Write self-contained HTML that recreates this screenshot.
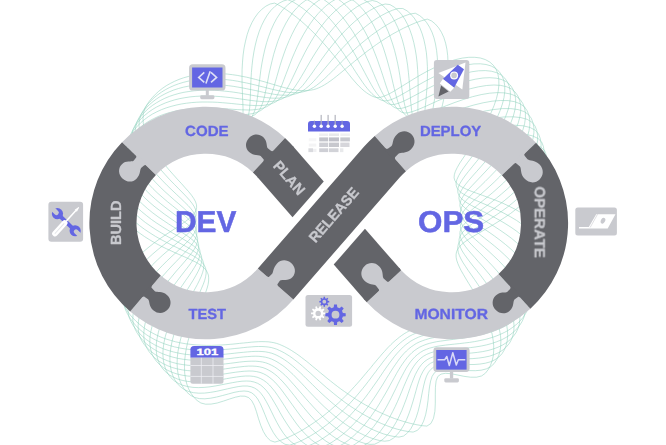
<!DOCTYPE html>
<html><head><meta charset="utf-8"><title>DevOps</title>
<style>
html,body{margin:0;padding:0;background:#fff;}
body{width:666px;height:445px;overflow:hidden;}
svg{display:block;}
text{font-family:"Liberation Sans",Arial,Helvetica,sans-serif;font-weight:700;text-rendering:geometricPrecision;}
</style></head><body>
<svg width="666" height="445" viewBox="0 0 666 445">
<rect width="666" height="445" fill="#fff"/>
<g id="bg" fill="none" stroke="#8fd2bd" stroke-width="0.55">
<path d="M114.4,189.1L115.4,184.6L116.9,180.3L118.9,176.1L121.5,172.1L124.5,168.3L127.9,164.7L131.8,161.3L136.0,158.1L140.6,155.3L145.5,152.6L150.6,150.3L155.9,148.2L161.4,146.4L166.9,144.8L172.5,143.4L178.1,142.2L183.7,141.3L189.2,140.4L194.5,139.8L199.7,139.2L204.6,138.6L209.4,138.2L213.8,137.7L218.0,137.1L221.9,136.5L225.5,135.8L228.8,134.9L231.7,133.8L234.4,132.5L236.7,131.0L238.8,129.2L240.4,126.9L241.6,124.1L242.4,120.8L242.8,116.9L243.0,112.5L243.0,107.5L242.8,102.1L242.5,96.1L242.3,89.8L242.1,83.2L242.0,76.3L242.1,69.3L242.5,62.1L243.1,55.0L244.1,47.9L245.5,41.1L247.2,34.5L249.3,28.4L251.9,22.7L254.8,17.6L258.1,13.1L261.8,9.3L265.8,6.2L270.1,4.0L274.7,3.1L280.2,5.9L285.7,9.3L291.0,13.0L296.1,16.9L301.1,21.0L305.9,25.3L310.5,29.6L314.9,34.0L319.1,38.4L323.1,42.8L326.9,47.1L330.5,51.4L334.0,55.6L337.3,59.7L340.4,63.7L343.4,67.6L346.3,71.2L349.1,74.7L351.7,78.0L354.3,81.0L356.8,83.9L359.3,86.5L361.7,88.8L364.1,90.9L366.6,92.8L369.0,94.4L371.6,95.8L374.1,96.9L376.9,97.6L380.0,97.4L383.5,96.4L387.5,94.7L391.9,92.4L396.8,89.5L402.1,86.2L407.9,82.6L414.0,78.8L420.6,74.9L427.3,71.2L434.3,67.7L441.4,64.5L448.5,61.8L455.5,59.6L462.3,58.1L468.8,57.3L474.9,57.3L480.4,58.0L485.4,59.6L489.7,62.0L493.3,65.2L496.0,69.2L497.9,73.9L498.8,79.3L498.9,85.2L498.1,91.7L496.5,98.4L494.1,105.5L491.1,112.7L487.6,119.8L483.7,126.9L479.5,133.8L475.2,140.5L471.0,146.7L466.9,152.6L463.2,158.0L459.9,162.9L457.3,167.4L455.4,171.3L454.3,174.8L454.1,177.9L454.9,180.6L456.5,183.0L458.9,185.2L462.2,187.2L466.3,189.2L471.1,191.2L476.5,193.2L482.4,195.3L488.8,197.7L495.4,200.2L502.1,202.9L508.7,206.0L515.2,209.3L521.4,212.9L527.0,216.8L532.1,220.9L536.4,225.2L539.9,229.6L542.5,234.2L544.1,238.8L544.7,243.4L544.3,247.9L543.5,252.4L542.4,256.8L540.9,261.2L539.1,265.4L537.1,269.6L534.7,273.6L532.1,277.5L529.2,281.2L526.1,284.8L522.7,288.3L519.1,291.5L515.4,294.6L511.4,297.5L507.3,300.3L503.1,302.8L498.7,305.2L494.3,307.4L489.8,309.4L485.3,311.2L480.7,312.9L476.1,314.4L471.6,315.8L467.0,317.0L462.6,318.1L458.2,319.1L453.8,320.0L449.6,320.9L445.5,321.6L441.5,322.4L437.6,323.1L433.8,323.8L430.2,324.5L426.8,325.2L423.5,326.0L420.3,326.8L417.2,327.7L414.4,328.7L411.6,329.8L409.0,331.0L406.5,332.4L404.1,333.8L401.8,335.4L399.5,337.1L397.3,338.9L395.1,340.7L392.9,342.7L390.8,344.7L388.6,346.9L386.5,349.1L384.4,351.5L382.2,353.9L380.0,356.5L377.8,359.1L375.5,361.8L373.1,364.7L370.8,367.6L368.3,370.5L365.7,373.6L363.1,376.7L360.4,379.9L357.6,383.1L354.6,386.4L351.6,389.7L348.4,393.1L345.1,396.4L341.7,399.8L338.2,403.2L334.5,406.5L330.7,409.8L326.8,413.1L322.7,416.4L318.5,419.5L314.1,422.6L309.6,425.6L305.0,428.5L300.2,431.3L295.4,433.9L290.4,436.3L285.3,438.6L280.1,440.5L274.9,442.1L270.4,440.6L266.6,436.9L263.4,431.6L260.7,425.2L258.4,418.3L256.4,411.5L254.3,405.5L251.8,400.8L248.8,397.7L245.0,396.2L240.5,396.1L235.4,397.2L229.6,399.0L223.4,401.1L217.2,403.0L211.1,404.1L205.6,404.2L200.9,403.0L197.0,400.4L193.7,397.1L190.9,393.2L188.6,388.8L186.8,384.0L185.5,378.8L184.7,373.2L184.5,367.3L184.6,361.2L185.3,354.9L186.3,348.6L187.7,342.2L189.4,335.9L191.3,329.6L193.4,323.5L195.6,317.6L197.8,312.0L200.0,306.6L202.1,301.5L204.0,296.8L205.7,292.3L207.1,288.2L208.1,284.5L208.6,281.1L208.7,277.9L208.4,275.1L207.4,272.5L206.0,270.1L204.0,267.9L201.5,265.8L198.6,263.8L195.1,261.8L191.1,259.9L186.8,257.9L182.1,255.8L177.0,253.6L171.8,251.2L166.3,248.7L160.8,246.0L155.3,243.1L149.8,239.9L144.4,236.5L139.3,232.9L134.5,229.1L130.0,225.1L126.0,220.9L122.5,216.5L119.5,212.0L117.2,207.5L115.4,202.8L114.4,198.2L114.1,193.6Z"/>
<path d="M115.9,180.9L117.0,176.5L118.6,172.2L120.8,168.1L123.4,164.2L126.4,160.4L129.9,156.9L133.7,153.6L137.9,150.6L142.4,147.8L147.2,145.3L152.3,143.0L157.5,141.0L162.9,139.3L168.3,137.8L173.9,136.5L179.4,135.4L184.9,134.6L190.3,133.9L195.7,133.3L200.9,132.8L205.9,132.5L210.7,132.1L215.3,131.8L219.6,131.5L223.6,131.0L227.4,130.5L230.9,129.9L234.1,129.1L237.1,128.1L239.7,126.9L242.1,125.5L244.2,123.7L246.0,121.6L247.3,118.9L248.4,115.6L249.1,111.9L249.7,107.6L250.0,102.8L250.3,97.5L250.5,91.8L250.7,85.7L251.0,79.3L251.4,72.6L252.0,65.8L252.8,58.8L253.9,51.9L255.3,45.0L257.0,38.3L259.1,31.8L261.5,25.7L264.3,20.1L267.4,14.9L270.9,10.4L274.7,6.6L278.8,3.4L283.1,1.1L287.7,-0.3L292.9,1.8L298.0,5.0L303.1,8.6L308.1,12.6L312.8,16.8L317.4,21.3L321.8,25.9L326.0,30.6L330.0,35.3L333.8,40.1L337.4,44.9L340.8,49.6L344.1,54.2L347.1,58.8L350.0,63.2L352.8,67.4L355.4,71.5L357.9,75.3L360.4,79.0L362.7,82.4L365.0,85.6L367.3,88.5L369.5,91.1L371.8,93.5L374.1,95.6L376.4,97.4L378.8,98.9L381.4,100.2L384.1,100.9L387.3,100.7L391.0,99.7L395.2,98.0L399.9,95.6L405.2,92.6L410.9,89.3L417.2,85.7L423.8,82.0L430.8,78.3L438.0,74.7L445.3,71.5L452.7,68.7L460.0,66.4L467.1,64.8L473.9,63.9L480.3,63.8L486.1,64.5L491.2,66.0L495.6,68.4L499.2,71.6L501.9,75.5L503.8,80.2L504.7,85.4L504.8,91.2L504.0,97.5L502.4,104.0L500.0,110.9L497.0,117.8L493.4,124.8L489.4,131.7L485.1,138.4L480.7,144.9L476.2,151.0L471.9,156.8L467.8,162.2L464.2,167.1L461.1,171.6L458.7,175.7L457.0,179.3L456.1,182.5L456.2,185.4L457.1,188.1L458.9,190.5L461.5,192.8L464.9,195.0L469.1,197.2L473.8,199.5L479.2,201.8L485.0,204.3L491.1,207.0L497.5,210.0L503.9,213.2L510.2,216.6L516.4,220.3L522.2,224.3L527.4,228.5L532.1,232.9L536.1,237.4L539.2,242.1L541.5,246.8L542.8,251.5L543.1,256.1L542.4,260.6L541.4,265.0L540.0,269.4L538.2,273.6L536.1,277.7L533.8,281.7L531.1,285.6L528.1,289.2L524.9,292.8L521.4,296.1L517.7,299.3L513.8,302.2L509.7,305.0L505.5,307.6L501.1,310.0L496.6,312.2L492.0,314.2L487.4,316.0L482.7,317.7L478.0,319.1L473.4,320.5L468.7,321.7L464.1,322.7L459.6,323.7L455.2,324.6L450.8,325.4L446.6,326.1L442.5,326.8L438.6,327.5L434.7,328.2L431.1,328.9L427.6,329.7L424.2,330.5L421.0,331.4L418.0,332.4L415.1,333.5L412.4,334.7L409.8,336.1L407.3,337.6L404.9,339.3L402.6,341.0L400.3,342.9L398.1,344.9L395.9,347.0L393.7,349.3L391.5,351.6L389.4,354.1L387.2,356.7L385.0,359.4L382.8,362.2L380.6,365.2L378.2,368.2L375.9,371.4L373.4,374.6L370.9,378.0L368.3,381.4L365.6,384.9L362.8,388.4L359.8,392.0L356.8,395.6L353.6,399.3L350.3,402.9L346.8,406.6L343.2,410.2L339.5,413.8L335.6,417.4L331.6,420.9L327.4,424.3L323.1,427.5L318.7,430.7L314.1,433.7L309.4,436.5L304.6,439.1L299.7,441.5L294.7,443.5L289.7,445.1L285.0,444.3L280.8,441.6L276.9,437.7L273.4,432.7L270.3,427.0L267.5,421.0L265.0,414.8L262.6,408.9L260.2,403.5L257.7,399.0L254.9,395.4L251.8,392.9L248.1,391.4L244.0,391.0L239.3,391.4L234.1,392.4L228.6,393.9L222.7,395.5L216.7,397.0L210.7,398.2L204.8,398.8L199.4,398.6L194.5,397.4L190.3,395.2L186.9,392.2L183.9,388.6L181.4,384.4L179.5,379.8L178.2,374.7L177.4,369.3L177.1,363.5L177.3,357.5L178.0,351.4L179.2,345.1L180.7,338.7L182.6,332.4L184.7,326.2L187.1,320.0L189.6,314.1L192.2,308.4L194.7,303.0L197.2,297.8L199.5,293.0L201.5,288.4L203.3,284.2L204.7,280.4L205.6,276.8L206.1,273.6L206.1,270.6L205.5,267.9L204.4,265.4L202.7,263.0L200.4,260.8L197.7,258.7L194.4,256.5L190.6,254.4L186.5,252.3L181.9,250.0L177.0,247.6L171.8,245.1L166.5,242.4L161.0,239.5L155.5,236.4L150.1,233.0L144.8,229.5L139.7,225.7L134.9,221.7L130.5,217.5L126.6,213.2L123.1,208.7L120.3,204.1L118.0,199.4L116.4,194.7L115.5,190.1L115.3,185.4Z"/>
<path d="M117.6,172.8L118.9,168.5L120.7,164.3L122.9,160.2L125.6,156.3L128.6,152.7L132.1,149.2L136.0,146.0L140.1,143.1L144.6,140.4L149.4,138.0L154.3,135.8L159.5,133.9L164.8,132.2L170.2,130.8L175.6,129.7L181.1,128.7L186.5,127.9L191.9,127.3L197.2,126.9L202.4,126.6L207.5,126.3L212.3,126.1L217.0,126.0L221.4,125.8L225.6,125.6L229.5,125.3L233.2,124.9L236.6,124.3L239.8,123.6L242.7,122.7L245.4,121.6L247.8,120.3L250.0,118.6L251.9,116.5L253.4,113.9L254.7,110.8L255.7,107.2L256.6,103.1L257.3,98.5L258.0,93.4L258.6,87.9L259.3,82.1L260.1,75.9L260.9,69.5L262.0,62.9L263.3,56.2L264.8,49.5L266.6,42.8L268.7,36.3L271.1,29.9L273.8,23.9L276.8,18.3L280.2,13.2L283.8,8.7L287.8,4.8L291.9,1.6L296.4,-0.8L300.9,-2.2L305.8,-1.1L310.8,1.7L315.7,5.3L320.4,9.2L325.0,13.6L329.3,18.2L333.5,23.0L337.5,28.0L341.2,33.0L344.8,38.1L348.2,43.3L351.3,48.4L354.3,53.4L357.1,58.4L359.7,63.2L362.2,67.8L364.6,72.3L366.8,76.5L369.0,80.5L371.1,84.3L373.1,87.8L375.2,91.0L377.2,93.8L379.3,96.4L381.4,98.7L383.6,100.7L385.9,102.4L388.3,103.8L391.1,104.5L394.4,104.4L398.3,103.3L402.8,101.5L407.9,99.1L413.6,96.1L419.8,92.8L426.5,89.2L433.6,85.6L441.1,82.1L448.7,78.8L456.4,75.9L464.1,73.6L471.5,71.8L478.6,70.8L485.3,70.6L491.3,71.2L496.7,72.7L501.2,75.0L504.8,78.2L507.5,82.1L509.4,86.7L510.3,91.9L510.4,97.5L509.6,103.6L508.0,110.0L505.6,116.6L502.6,123.3L499.0,130.0L494.9,136.7L490.5,143.3L486.0,149.6L481.3,155.6L476.7,161.3L472.4,166.6L468.4,171.5L464.9,176.0L462.0,180.1L459.7,183.9L458.3,187.2L457.7,190.3L458.0,193.1L459.1,195.7L461.0,198.2L463.8,200.6L467.2,203.0L471.3,205.4L476.1,207.9L481.3,210.6L487.0,213.5L492.9,216.6L499.0,219.9L505.1,223.5L511.1,227.3L516.9,231.4L522.2,235.7L527.1,240.2L531.4,244.9L535.0,249.7L537.8,254.5L539.7,259.3L540.7,264.1L540.7,268.7L539.9,273.2L538.5,277.5L536.8,281.7L534.8,285.8L532.4,289.8L529.7,293.6L526.6,297.2L523.3,300.7L519.8,303.9L515.9,307.0L511.9,309.8L507.7,312.5L503.3,314.9L498.8,317.1L494.1,319.1L489.4,320.9L484.7,322.6L479.9,324.0L475.1,325.3L470.3,326.5L465.6,327.5L460.9,328.4L456.4,329.2L451.9,329.9L447.6,330.6L443.4,331.3L439.4,332.0L435.5,332.7L431.8,333.4L428.3,334.2L424.9,335.0L421.7,336.0L418.7,337.1L415.8,338.4L413.1,339.8L410.5,341.3L408.0,343.1L405.6,344.9L403.3,346.9L401.1,349.1L398.9,351.4L396.7,353.8L394.5,356.4L392.4,359.2L390.2,362.1L388.0,365.1L385.8,368.2L383.5,371.5L381.2,375.0L378.8,378.5L376.3,382.1L373.7,385.8L371.0,389.6L368.2,393.5L365.3,397.4L362.2,401.3L359.0,405.3L355.7,409.2L352.2,413.1L348.6,417.0L344.8,420.8L340.9,424.5L336.8,428.1L332.5,431.6L328.1,434.9L323.6,437.9L319.0,440.8L314.3,443.3L309.4,445.4L304.6,447.1L299.8,446.9L295.3,444.9L291.1,441.8L287.1,437.9L283.4,433.2L280.0,428.0L276.9,422.5L274.0,416.9L271.3,411.3L268.7,406.0L266.1,401.2L263.5,396.8L260.8,393.2L257.9,390.2L254.7,388.1L251.1,386.7L247.2,386.0L242.9,386.0L238.2,386.6L233.1,387.6L227.7,388.8L222.0,390.1L216.2,391.4L210.3,392.4L204.5,393.1L198.8,393.2L193.5,392.7L188.6,391.5L184.2,389.5L180.4,386.8L177.2,383.4L174.6,379.5L172.6,375.1L171.1,370.2L170.2,364.9L169.9,359.3L170.1,353.5L170.9,347.4L172.1,341.2L173.8,334.9L175.9,328.6L178.2,322.4L180.8,316.3L183.6,310.3L186.5,304.6L189.4,299.1L192.2,293.9L194.9,289.0L197.4,284.4L199.5,280.1L201.3,276.2L202.6,272.5L203.5,269.2L203.8,266.1L203.6,263.3L202.8,260.6L201.4,258.2L199.5,255.8L197.0,253.5L193.9,251.3L190.4,249.0L186.4,246.7L181.9,244.3L177.2,241.7L172.1,239.0L166.8,236.1L161.5,233.0L156.0,229.7L150.7,226.2L145.4,222.5L140.4,218.5L135.7,214.4L131.4,210.0L127.5,205.5L124.1,200.9L121.3,196.2L119.2,191.4L117.7,186.7L117.0,182.0L116.9,177.3Z"/>
<path d="M119.7,164.8L121.1,160.5L123.0,156.4L125.3,152.4L128.1,148.6L131.2,145.0L134.7,141.7L138.6,138.5L142.7,135.7L147.2,133.1L151.9,130.7L156.8,128.7L161.8,126.8L167.1,125.3L172.4,124.0L177.8,122.9L183.2,122.0L188.6,121.4L193.9,120.9L199.2,120.5L204.4,120.3L209.4,120.2L214.3,120.1L219.0,120.1L223.5,120.1L227.8,120.1L231.9,120.0L235.7,119.8L239.3,119.5L242.6,119.1L245.8,118.5L248.6,117.7L251.3,116.6L253.8,115.4L256.1,113.8L258.1,111.8L259.8,109.4L261.3,106.4L262.6,103.0L263.8,99.0L264.9,94.6L265.9,89.8L267.0,84.6L268.1,79.0L269.2,73.1L270.6,67.0L272.1,60.7L273.7,54.3L275.7,47.8L277.8,41.3L280.3,35.0L283.0,28.9L286.0,23.0L289.3,17.5L292.9,12.4L296.8,7.9L300.9,3.9L305.2,0.7L309.7,-1.8L314.3,-3.4L319.1,-2.9L323.9,-0.4L328.5,3.0L333.1,6.9L337.4,11.3L341.6,16.0L345.5,21.0L349.2,26.2L352.8,31.5L356.0,36.9L359.1,42.4L362.0,47.9L364.7,53.3L367.1,58.6L369.5,63.8L371.6,68.8L373.7,73.7L375.6,78.3L377.5,82.6L379.3,86.7L381.1,90.4L382.9,93.9L384.7,97.0L386.6,99.9L388.5,102.3L390.6,104.5L392.7,106.3L395.1,107.8L397.9,108.6L401.3,108.4L405.5,107.3L410.3,105.5L415.8,103.0L421.9,100.0L428.7,96.7L435.9,93.2L443.6,89.7L451.5,86.4L459.5,83.5L467.5,81.0L475.4,79.2L482.9,78.0L489.9,77.7L496.2,78.2L501.8,79.6L506.5,81.8L510.2,85.0L512.9,89.0L514.7,93.5L515.6,98.6L515.7,104.1L514.9,110.0L513.3,116.2L510.9,122.6L507.9,129.1L504.3,135.7L500.2,142.1L495.7,148.5L491.0,154.6L486.2,160.5L481.4,166.1L476.8,171.3L472.5,176.1L468.6,180.6L465.3,184.7L462.5,188.5L460.5,192.0L459.3,195.1L458.9,198.0L459.4,200.8L460.7,203.4L462.8,205.9L465.6,208.5L469.0,211.1L473.1,213.8L477.8,216.6L482.9,219.6L488.4,222.8L494.1,226.3L499.8,230.0L505.6,234.0L511.3,238.2L516.6,242.6L521.6,247.2L526.1,252.0L530.0,256.8L533.2,261.8L535.6,266.8L537.1,271.7L537.8,276.5L537.6,281.1L536.5,285.5L534.9,289.8L532.9,293.9L530.6,297.8L527.9,301.6L524.8,305.2L521.5,308.6L517.8,311.7L513.9,314.7L509.7,317.4L505.4,319.9L500.8,322.1L496.2,324.2L491.4,326.0L486.5,327.6L481.6,329.0L476.7,330.3L471.8,331.4L467.0,332.3L462.2,333.2L457.5,333.9L452.9,334.6L448.5,335.2L444.2,335.9L440.1,336.5L436.2,337.2L432.4,337.9L428.8,338.7L425.5,339.7L422.3,340.8L419.3,342.0L416.4,343.4L413.8,345.1L411.2,346.9L408.8,348.8L406.4,351.0L404.1,353.3L401.9,355.8L399.7,358.5L397.6,361.4L395.5,364.4L393.3,367.6L391.1,371.0L388.9,374.5L386.6,378.2L384.3,382.0L381.9,386.0L379.3,390.0L376.7,394.1L373.9,398.3L371.0,402.5L368.0,406.8L364.8,411.0L361.5,415.2L357.9,419.4L354.3,423.4L350.4,427.4L346.4,431.2L342.3,434.8L338.0,438.1L333.5,441.2L329.0,444.0L324.3,446.3L319.5,448.1L314.8,448.4L310.2,446.9L305.7,444.5L301.4,441.3L297.3,437.4L293.4,433.0L289.8,428.2L286.4,423.1L283.2,418.0L280.2,412.8L277.4,407.7L274.6,402.9L271.9,398.4L269.3,394.3L266.5,390.7L263.7,387.7L260.8,385.2L257.6,383.3L254.1,382.0L250.4,381.2L246.4,381.0L242.0,381.2L237.3,381.8L232.3,382.7L227.0,383.7L221.4,384.8L215.8,385.9L210.0,386.8L204.2,387.4L198.5,387.6L193.0,387.4L187.8,386.6L182.9,385.3L178.4,383.4L174.4,380.9L171.0,377.8L168.2,374.1L165.9,369.9L164.3,365.2L163.3,360.1L162.9,354.7L163.1,349.0L163.9,343.0L165.2,336.9L167.0,330.7L169.2,324.5L171.7,318.3L174.6,312.2L177.6,306.3L180.8,300.5L184.1,295.0L187.3,289.7L190.3,284.8L193.2,280.1L195.7,275.8L197.9,271.8L199.7,268.1L200.9,264.7L201.7,261.5L201.8,258.6L201.4,255.8L200.3,253.3L198.7,250.8L196.4,248.4L193.6,246.0L190.3,243.6L186.5,241.1L182.2,238.5L177.6,235.8L172.6,233.0L167.5,229.9L162.2,226.6L156.8,223.2L151.5,219.5L146.4,215.5L141.4,211.4L136.7,207.1L132.5,202.6L128.7,197.9L125.4,193.2L122.7,188.4L120.7,183.5L119.4,178.7L118.7,174.0L118.8,169.3Z"/>
<path d="M122.1,156.9L123.7,152.7L125.7,148.6L128.1,144.7L130.9,140.9L134.1,137.4L137.6,134.2L141.5,131.1L145.6,128.4L150.0,125.9L154.7,123.6L159.5,121.6L164.6,119.9L169.7,118.4L175.0,117.2L180.3,116.2L185.6,115.4L191.0,114.9L196.3,114.5L201.5,114.2L206.7,114.1L211.7,114.1L216.6,114.2L221.3,114.4L225.9,114.5L230.3,114.7L234.4,114.8L238.4,114.8L242.1,114.7L245.6,114.5L248.9,114.2L252.0,113.7L254.9,113.0L257.6,112.0L260.1,110.9L262.4,109.4L264.5,107.5L266.4,105.2L268.2,102.4L269.7,99.1L271.2,95.4L272.6,91.2L274.0,86.7L275.4,81.7L276.9,76.5L278.5,70.9L280.2,65.1L282.1,59.1L284.2,53.0L286.5,46.8L289.1,40.6L291.9,34.5L294.9,28.6L298.2,22.9L301.8,17.5L305.6,12.5L309.7,8.0L313.9,4.0L318.4,0.7L323.0,-1.9L327.7,-3.5L332.4,-3.7L337.1,-1.4L341.6,1.7L346.0,5.6L350.1,9.9L354.1,14.7L357.8,19.8L361.2,25.2L364.5,30.8L367.5,36.5L370.2,42.3L372.8,48.1L375.1,53.8L377.3,59.5L379.2,65.0L381.1,70.4L382.8,75.6L384.4,80.5L385.9,85.2L387.4,89.5L388.9,93.6L390.4,97.3L392.0,100.7L393.6,103.7L395.4,106.4L397.2,108.7L399.3,110.6L401.6,112.2L404.4,113.0L408.0,112.8L412.4,111.6L417.7,109.7L423.6,107.2L430.3,104.2L437.6,100.9L445.4,97.6L453.6,94.3L462.0,91.3L470.4,88.7L478.6,86.8L486.5,85.5L493.9,85.0L500.7,85.4L506.5,86.7L511.4,88.9L515.2,92.1L517.9,96.0L519.7,100.5L520.7,105.5L520.7,110.9L519.9,116.7L518.3,122.7L516.0,128.9L512.9,135.3L509.3,141.6L505.1,147.9L500.6,154.0L495.8,160.0L490.9,165.7L485.9,171.1L481.1,176.2L476.5,181.0L472.3,185.4L468.5,189.5L465.3,193.3L462.8,196.8L461.0,200.0L460.1,203.0L459.9,205.8L460.6,208.5L462.0,211.2L464.1,213.8L466.9,216.5L470.4,219.4L474.5,222.3L479.0,225.4L483.9,228.8L489.2,232.3L494.6,236.1L500.1,240.2L505.5,244.5L510.8,249.0L515.7,253.7L520.3,258.6L524.4,263.6L527.8,268.7L530.6,273.8L532.7,278.9L533.9,283.9L534.3,288.7L533.8,293.3L532.5,297.7L530.6,301.8L528.4,305.8L525.7,309.6L522.6,313.1L519.2,316.4L515.5,319.5L511.5,322.3L507.3,324.9L502.8,327.3L498.1,329.3L493.3,331.2L488.3,332.8L483.3,334.2L478.3,335.4L473.2,336.4L468.2,337.3L463.3,338.0L458.5,338.7L453.8,339.3L449.2,339.9L444.9,340.5L440.7,341.1L436.7,341.7L432.9,342.5L429.3,343.4L426.0,344.4L422.8,345.7L419.8,347.1L417.0,348.8L414.4,350.6L411.9,352.7L409.6,355.0L407.3,357.5L405.1,360.3L402.9,363.3L400.8,366.4L398.7,369.8L396.6,373.4L394.5,377.2L392.3,381.2L390.0,385.3L387.7,389.6L385.2,394.0L382.6,398.4L379.9,402.9L377.1,407.5L374.0,412.0L370.9,416.5L367.5,421.0L364.0,425.3L360.2,429.5L356.3,433.4L352.3,437.1L348.1,440.5L343.7,443.6L339.2,446.1L334.5,448.1L329.8,448.9L325.1,447.9L320.5,445.9L315.9,443.2L311.6,440.0L307.4,436.2L303.4,432.0L299.5,427.6L295.9,422.9L292.5,418.1L289.2,413.3L286.2,408.6L283.2,403.9L280.4,399.5L277.6,395.4L274.9,391.5L272.1,388.1L269.4,385.0L266.5,382.4L263.5,380.2L260.4,378.5L257.1,377.2L253.5,376.4L249.7,376.0L245.6,376.0L241.2,376.4L236.5,377.0L231.5,377.8L226.4,378.7L221.0,379.7L215.4,380.5L209.8,381.3L204.1,381.8L198.4,382.0L192.9,381.9L187.5,381.4L182.3,380.4L177.5,379.0L173.0,377.0L168.9,374.6L165.3,371.6L162.2,368.1L159.7,364.2L157.9,359.7L156.7,354.9L156.2,349.6L156.3,344.0L157.1,338.2L158.4,332.2L160.2,326.1L162.6,320.0L165.3,313.9L168.4,307.8L171.7,301.9L175.2,296.2L178.7,290.7L182.3,285.4L185.7,280.4L189.0,275.7L191.9,271.4L194.5,267.3L196.7,263.5L198.4,260.1L199.5,256.8L200.1,253.8L200.0,251.0L199.3,248.3L198.0,245.8L196.0,243.2L193.5,240.7L190.4,238.2L186.8,235.6L182.7,232.9L178.2,230.0L173.4,227.0L168.4,223.8L163.2,220.3L157.9,216.7L152.7,212.8L147.6,208.7L142.7,204.3L138.1,199.8L133.9,195.2L130.2,190.4L127.0,185.5L124.4,180.6L122.5,175.7L121.3,170.8L120.8,166.0L121.0,161.4Z"/>
<path d="M124.7,149.1L126.5,144.9L128.6,140.9L131.1,137.0L134.0,133.4L137.3,130.0L140.8,126.8L144.7,123.9L148.9,121.2L153.3,118.8L157.9,116.6L162.7,114.7L167.7,113.1L172.8,111.7L177.9,110.6L183.2,109.7L188.5,109.0L193.8,108.5L199.0,108.2L204.2,108.1L209.4,108.1L214.4,108.2L219.3,108.4L224.0,108.7L228.6,109.0L233.0,109.3L237.2,109.6L241.3,109.8L245.1,109.9L248.8,110.0L252.2,109.9L255.4,109.6L258.5,109.2L261.4,108.6L264.1,107.8L266.7,106.7L269.1,105.3L271.3,103.6L273.4,101.4L275.3,98.8L277.1,95.7L278.8,92.2L280.5,88.3L282.3,84.0L284.0,79.4L285.9,74.4L287.9,69.2L290.0,63.7L292.2,58.1L294.7,52.3L297.3,46.5L300.2,40.6L303.3,34.8L306.7,29.1L310.3,23.6L314.1,18.4L318.2,13.5L322.4,9.1L326.9,5.1L331.5,1.7L336.2,-1.0L341.0,-2.8L345.8,-3.3L350.4,-1.4L354.8,1.5L359.0,5.3L363.0,9.6L366.7,14.4L370.2,19.6L373.4,25.1L376.3,30.9L379.0,36.8L381.5,42.9L383.7,48.9L385.6,55.0L387.4,61.0L389.0,66.9L390.5,72.6L391.8,78.1L393.0,83.3L394.2,88.3L395.4,92.9L396.5,97.2L397.7,101.2L399.0,104.7L400.4,107.9L401.9,110.8L403.7,113.2L405.6,115.3L407.8,117.0L410.7,117.7L414.5,117.5L419.3,116.3L424.9,114.3L431.5,111.7L438.7,108.8L446.6,105.6L455.0,102.4L463.7,99.4L472.5,96.7L481.2,94.6L489.6,93.2L497.5,92.6L504.6,92.9L510.9,94.1L516.0,96.2L520.0,99.3L522.7,103.3L524.5,107.8L525.4,112.7L525.4,118.0L524.6,123.7L523.0,129.5L520.7,135.6L517.6,141.7L514.0,147.8L509.8,153.9L505.3,159.8L500.4,165.6L495.3,171.1L490.2,176.4L485.2,181.4L480.4,186.1L475.8,190.4L471.7,194.5L468.1,198.2L465.1,201.7L462.8,204.9L461.3,207.9L460.5,210.8L460.5,213.6L461.3,216.3L462.8,219.0L465.0,221.8L467.9,224.7L471.3,227.8L475.3,231.0L479.7,234.4L484.4,238.0L489.4,241.9L494.5,246.0L499.7,250.4L504.7,255.0L509.6,259.8L514.1,264.8L518.3,269.9L521.9,275.2L525.0,280.4L527.4,285.7L529.0,290.8L529.9,295.9L530.0,300.7L529.3,305.3L527.7,309.6L525.6,313.6L523.1,317.4L520.1,320.9L516.7,324.2L512.9,327.2L508.8,330.0L504.5,332.4L499.8,334.6L495.0,336.5L490.0,338.1L484.9,339.5L479.8,340.6L474.6,341.6L469.5,342.4L464.4,343.0L459.4,343.6L454.6,344.1L449.9,344.6L445.4,345.1L441.1,345.7L437.1,346.3L433.3,347.2L429.7,348.1L426.4,349.3L423.2,350.7L420.4,352.4L417.7,354.4L415.1,356.6L412.8,359.1L410.5,361.8L408.3,364.9L406.2,368.2L404.2,371.8L402.2,375.6L400.1,379.6L398.0,383.9L395.9,388.4L393.6,393.0L391.3,397.7L388.8,402.5L386.2,407.4L383.3,412.3L380.4,417.1L377.2,421.8L373.8,426.4L370.2,430.7L366.5,434.8L362.5,438.6L358.3,442.0L354.0,444.9L349.5,447.2L344.9,448.4L340.1,447.8L335.3,446.2L330.6,444.0L326.0,441.2L321.6,437.9L317.3,434.3L313.1,430.4L309.1,426.2L305.4,421.9L301.7,417.5L298.3,413.0L295.0,408.5L291.9,404.2L288.8,399.9L285.9,395.9L283.1,392.0L280.4,388.4L277.6,385.1L274.9,382.1L272.1,379.5L269.2,377.2L266.3,375.2L263.2,373.6L260.0,372.4L256.6,371.6L252.9,371.1L249.0,371.0L244.9,371.2L240.5,371.6L235.8,372.2L231.0,372.9L225.9,373.7L220.6,374.5L215.2,375.3L209.7,375.9L204.1,376.3L198.5,376.5L192.9,376.4L187.5,376.0L182.2,375.2L177.1,374.0L172.3,372.4L167.8,370.4L163.7,367.9L160.0,365.0L156.8,361.7L154.0,358.0L151.9,353.8L150.6,349.1L149.9,344.1L149.9,338.7L150.5,333.0L151.8,327.2L153.7,321.2L156.1,315.2L159.0,309.1L162.2,303.1L165.7,297.3L169.5,291.6L173.4,286.1L177.3,280.8L181.1,275.8L184.7,271.2L188.1,266.8L191.2,262.7L193.8,258.9L195.9,255.4L197.5,252.1L198.4,249.0L198.7,246.1L198.4,243.4L197.4,240.7L195.7,238.1L193.5,235.5L190.7,232.9L187.3,230.1L183.4,227.3L179.1,224.3L174.4,221.1L169.5,217.7L164.4,214.1L159.3,210.2L154.1,206.2L149.1,201.9L144.3,197.4L139.8,192.7L135.6,187.9L132.0,182.9L128.9,177.9L126.4,172.9L124.6,167.9L123.5,162.9L123.1,158.1L123.6,153.5Z"/>
<path d="M127.7,141.4L129.6,137.3L131.9,133.3L134.5,129.5L137.5,126.0L140.8,122.7L144.4,119.6L148.3,116.7L152.4,114.1L156.8,111.8L161.4,109.7L166.2,107.9L171.1,106.4L176.1,105.1L181.3,104.0L186.5,103.2L191.7,102.6L196.9,102.2L202.1,102.0L207.3,102.0L212.4,102.1L217.4,102.3L222.3,102.7L227.0,103.1L231.6,103.5L236.1,104.0L240.3,104.4L244.4,104.8L248.4,105.2L252.1,105.4L255.6,105.6L259.0,105.6L262.2,105.5L265.3,105.1L268.1,104.6L270.9,103.9L273.5,102.9L276.0,101.7L278.3,100.0L280.5,98.0L282.6,95.6L284.6,92.7L286.6,89.5L288.6,85.9L290.7,81.9L292.7,77.6L294.9,73.0L297.2,68.1L299.6,63.0L302.3,57.7L305.0,52.3L308.0,46.8L311.2,41.3L314.6,35.8L318.3,30.4L322.2,25.2L326.2,20.2L330.5,15.5L335.0,11.1L339.6,7.2L344.4,3.7L349.3,1.0L354.2,-1.0L359.1,-1.9L363.7,-0.4L368.0,2.4L372.1,6.0L375.9,10.3L379.4,15.1L382.6,20.3L385.6,25.9L388.3,31.8L390.6,38.0L392.7,44.2L394.6,50.5L396.2,56.9L397.6,63.1L398.8,69.3L399.8,75.3L400.7,81.1L401.6,86.6L402.3,91.8L403.1,96.7L403.9,101.3L404.8,105.4L405.8,109.2L406.9,112.6L408.2,115.6L409.8,118.1L411.6,120.3L413.7,122.1L416.7,122.8L420.8,122.5L426.0,121.2L432.2,119.2L439.3,116.6L447.2,113.7L455.7,110.6L464.7,107.7L473.9,105.0L483.1,102.8L492.0,101.2L500.4,100.5L508.1,100.6L514.7,101.7L520.2,103.8L524.4,106.8L527.1,110.7L528.9,115.2L529.8,120.1L529.8,125.3L529.0,130.8L527.4,136.6L525.1,142.4L522.1,148.4L518.4,154.3L514.2,160.2L509.6,165.9L504.7,171.5L499.5,176.9L494.3,182.0L489.1,186.8L484.0,191.4L479.2,195.6L474.8,199.6L470.8,203.3L467.4,206.7L464.6,209.9L462.5,212.9L461.2,215.8L460.6,218.6L460.8,221.4L461.7,224.1L463.3,227.0L465.6,229.9L468.4,233.0L471.7,236.2L475.6,239.7L479.8,243.4L484.3,247.3L489.0,251.5L493.8,256.0L498.6,260.6L503.3,265.5L507.7,270.6L511.9,275.8L515.6,281.2L518.8,286.6L521.4,292.0L523.4,297.3L524.7,302.5L525.3,307.6L525.0,312.4L524.0,317.0L522.3,321.1L519.9,325.0L517.1,328.6L513.7,331.9L510.0,334.9L505.9,337.5L501.4,339.9L496.6,341.8L491.7,343.5L486.5,344.9L481.3,346.0L475.9,346.9L470.6,347.6L465.4,348.1L460.2,348.6L455.2,349.0L450.4,349.4L445.8,349.8L441.4,350.3L437.3,351.0L433.5,351.9L430.0,353.0L426.7,354.4L423.7,356.1L420.9,358.1L418.4,360.5L416.0,363.2L413.8,366.2L411.7,369.6L409.7,373.4L407.8,377.4L405.9,381.7L403.9,386.3L401.9,391.2L399.8,396.2L397.6,401.3L395.2,406.5L392.6,411.7L389.9,416.8L386.9,421.9L383.7,426.7L380.3,431.3L376.7,435.5L372.8,439.3L368.7,442.6L364.4,445.2L359.8,446.8L355.1,446.6L350.2,445.4L345.4,443.5L340.6,441.1L335.9,438.3L331.4,435.2L327.0,431.7L322.7,428.0L318.6,424.1L314.7,420.1L310.9,416.0L307.3,411.8L303.8,407.7L300.5,403.6L297.3,399.6L294.3,395.7L291.3,391.9L288.5,388.4L285.7,385.0L282.9,381.9L280.2,379.0L277.5,376.4L274.7,374.1L271.9,372.0L269.0,370.3L266.0,368.8L262.9,367.6L259.6,366.8L256.1,366.3L252.4,366.1L248.5,366.1L244.3,366.4L239.9,366.9L235.3,367.4L230.5,368.1L225.6,368.8L220.4,369.5L215.1,370.1L209.7,370.6L204.2,371.0L198.7,371.1L193.2,371.0L187.7,370.6L182.4,369.9L177.2,368.9L172.2,367.5L167.5,365.7L163.0,363.6L158.9,361.1L155.1,358.2L151.8,355.0L148.9,351.4L146.5,347.4L144.8,342.9L143.9,338.1L143.8,332.9L144.3,327.4L145.5,321.7L147.4,315.9L149.8,309.9L152.7,304.0L156.1,298.1L159.9,292.3L163.9,286.7L168.0,281.2L172.3,276.0L176.4,271.0L180.5,266.4L184.3,262.0L187.8,257.9L190.8,254.1L193.4,250.6L195.4,247.3L196.8,244.2L197.5,241.2L197.6,238.4L196.9,235.7L195.6,233.0L193.7,230.3L191.1,227.6L188.0,224.7L184.3,221.8L180.2,218.6L175.7,215.3L170.9,211.7L166.0,207.9L160.9,203.9L155.8,199.6L150.9,195.2L146.1,190.5L141.7,185.7L137.6,180.7L134.1,175.6L131.1,170.4L128.7,165.3L127.0,160.2L126.0,155.2L125.8,150.4L126.4,145.7Z"/>
<path d="M130.9,133.8L133.0,129.7L135.4,125.9L138.1,122.2L141.2,118.7L144.5,115.5L148.2,112.5L152.1,109.7L156.3,107.2L160.7,105.0L165.2,103.0L170.0,101.3L174.9,99.8L179.9,98.6L184.9,97.7L190.1,96.9L195.2,96.4L200.4,96.1L205.6,96.0L210.7,96.1L215.7,96.3L220.7,96.6L225.6,97.1L230.3,97.6L234.9,98.2L239.4,98.8L243.7,99.4L247.8,100.0L251.8,100.5L255.6,101.0L259.3,101.3L262.7,101.6L266.1,101.7L269.2,101.6L272.2,101.4L275.1,101.0L277.9,100.4L280.5,99.5L283.1,98.4L285.5,96.9L287.9,95.1L290.1,92.8L292.4,90.2L294.6,87.2L296.8,83.9L299.1,80.3L301.5,76.3L304.0,72.1L306.6,67.6L309.3,62.9L312.2,58.0L315.3,53.0L318.6,47.9L322.1,42.7L325.7,37.6L329.7,32.5L333.8,27.6L338.1,22.8L342.6,18.3L347.3,14.0L352.1,10.2L357.1,6.7L362.2,3.9L367.3,1.7L372.3,0.5L376.9,1.6L381.2,4.2L385.1,7.7L388.8,11.9L392.1,16.7L395.1,21.9L397.8,27.6L400.2,33.6L402.3,39.9L404.0,46.3L405.5,52.8L406.7,59.4L407.7,65.9L408.4,72.4L409.0,78.6L409.5,84.6L409.9,90.4L410.3,95.9L410.6,101.0L411.1,105.8L411.6,110.1L412.2,114.1L413.1,117.6L414.2,120.7L415.6,123.4L417.2,125.7L419.3,127.5L422.5,128.2L426.9,127.8L432.6,126.4L439.3,124.4L447.1,121.8L455.7,119.0L465.0,116.1L474.6,113.4L484.2,111.2L493.7,109.5L502.7,108.6L510.9,108.6L518.1,109.6L524.0,111.5L528.4,114.5L531.3,118.3L533.0,122.8L533.9,127.7L533.9,132.8L533.1,138.2L531.5,143.8L529.2,149.6L526.1,155.3L522.5,161.1L518.3,166.8L513.6,172.3L508.7,177.7L503.5,182.9L498.1,187.8L492.8,192.5L487.5,196.9L482.5,201.0L477.7,204.9L473.4,208.5L469.6,211.8L466.4,215.0L463.8,218.0L462.0,220.8L460.8,223.6L460.4,226.4L460.8,229.2L461.8,232.0L463.4,235.0L465.6,238.0L468.4,241.3L471.7,244.8L475.3,248.5L479.4,252.5L483.6,256.7L488.0,261.2L492.5,265.9L496.9,270.8L501.2,276.0L505.2,281.3L508.9,286.7L512.2,292.2L515.0,297.8L517.2,303.3L518.8,308.7L519.7,314.0L519.9,319.0L519.4,323.8L518.1,328.3L516.2,332.4L513.5,336.1L510.4,339.5L506.7,342.5L502.6,345.0L498.0,347.2L493.2,349.0L488.0,350.5L482.7,351.6L477.2,352.4L471.7,353.0L466.3,353.4L460.9,353.7L455.7,353.9L450.8,354.2L446.0,354.5L441.6,355.0L437.5,355.7L433.7,356.7L430.2,358.0L427.1,359.7L424.2,361.8L421.7,364.3L419.4,367.3L417.3,370.8L415.3,374.6L413.5,378.9L411.7,383.5L409.9,388.5L408.1,393.7L406.2,399.2L404.1,404.7L401.9,410.3L399.4,415.8L396.7,421.2L393.7,426.3L390.5,431.1L387.0,435.4L383.1,439.1L379.0,442.1L374.7,444.2L369.9,444.4L365.0,443.5L360.0,441.9L355.1,439.9L350.3,437.4L345.5,434.7L340.9,431.6L336.4,428.4L332.0,424.9L327.8,421.3L323.7,417.5L319.8,413.7L316.1,409.9L312.5,406.0L309.1,402.2L305.7,398.4L302.6,394.7L299.5,391.2L296.5,387.7L293.6,384.4L290.8,381.3L288.1,378.3L285.4,375.6L282.7,373.1L279.9,370.8L277.2,368.7L274.5,366.9L271.6,365.3L268.7,363.9L265.7,362.8L262.5,362.0L259.2,361.5L255.7,361.2L251.9,361.2L248.0,361.3L243.9,361.6L239.5,362.1L235.0,362.7L230.3,363.3L225.4,363.9L220.3,364.5L215.1,365.0L209.8,365.4L204.4,365.7L199.0,365.8L193.5,365.6L188.1,365.3L182.8,364.6L177.5,363.7L172.4,362.4L167.6,360.8L162.9,358.9L158.5,356.6L154.4,354.0L150.6,351.1L147.2,347.9L144.2,344.4L141.6,340.5L139.7,336.3L138.5,331.7L138.1,326.7L138.4,321.4L139.5,315.8L141.3,310.1L143.7,304.3L146.7,298.5L150.2,292.7L154.1,287.0L158.3,281.4L162.7,276.1L167.3,270.9L171.8,266.0L176.3,261.4L180.5,257.0L184.4,253.0L187.9,249.2L190.9,245.6L193.4,242.3L195.2,239.2L196.4,236.3L196.8,233.4L196.6,230.7L195.6,227.9L194.0,225.2L191.7,222.3L188.8,219.4L185.4,216.3L181.5,213.0L177.2,209.5L172.6,205.8L167.7,201.9L162.8,197.7L157.8,193.3L152.9,188.6L148.3,183.7L143.9,178.7L140.0,173.6L136.5,168.3L133.6,163.1L131.3,157.8L129.7,152.6L128.8,147.6L128.8,142.7L129.5,138.1Z"/>
<path d="M134.5,126.3L136.7,122.3L139.2,118.6L142.0,115.0L145.2,111.6L148.6,108.4L152.3,105.5L156.3,102.9L160.4,100.5L164.8,98.3L169.4,96.4L174.1,94.8L179.0,93.4L183.9,92.3L188.9,91.5L194.0,90.8L199.1,90.4L204.3,90.2L209.4,90.2L214.4,90.3L219.4,90.6L224.4,91.1L229.2,91.6L233.9,92.2L238.5,92.9L243.0,93.7L247.3,94.4L251.5,95.2L255.5,95.9L259.4,96.6L263.1,97.1L266.7,97.6L270.1,98.0L273.3,98.2L276.4,98.2L279.4,98.1L282.3,97.8L285.1,97.3L287.8,96.6L290.4,95.6L292.9,94.2L295.4,92.6L297.8,90.5L300.2,88.2L302.7,85.5L305.1,82.5L307.6,79.1L310.3,75.5L313.0,71.7L315.8,67.6L318.9,63.3L322.0,58.8L325.4,54.2L328.9,49.5L332.7,44.8L336.6,40.0L340.7,35.3L345.1,30.7L349.6,26.2L354.3,21.9L359.2,17.8L364.3,14.1L369.5,10.7L374.7,7.8L380.0,5.5L385.2,4.0L390.0,4.6L394.2,7.1L398.0,10.4L401.6,14.5L404.8,19.2L407.6,24.5L410.0,30.2L412.1,36.3L413.8,42.6L415.2,49.2L416.3,55.9L417.1,62.6L417.6,69.4L418.0,76.0L418.1,82.5L418.1,88.8L418.1,94.8L418.0,100.4L417.9,105.8L417.9,110.7L418.1,115.2L418.4,119.3L419.0,123.0L419.8,126.2L421.0,129.0L422.5,131.3L424.6,133.1L428.0,133.8L432.8,133.3L439.0,131.9L446.5,129.9L455.0,127.3L464.4,124.6L474.3,122.0L484.5,119.7L494.6,118.0L504.3,116.9L513.1,116.8L520.9,117.6L527.3,119.4L532.1,122.3L535.1,126.1L536.8,130.6L537.6,135.4L537.6,140.5L536.8,145.8L535.2,151.3L532.9,156.9L529.9,162.5L526.2,168.1L522.0,173.6L517.4,179.0L512.4,184.2L507.1,189.2L501.6,193.9L496.2,198.4L490.8,202.7L485.5,206.7L480.5,210.4L475.9,213.9L471.8,217.1L468.1,220.2L465.1,223.1L462.8,225.9L461.1,228.7L460.1,231.4L459.9,234.1L460.3,237.0L461.4,239.9L463.0,243.0L465.2,246.2L467.9,249.7L471.1,253.4L474.6,257.3L478.3,261.6L482.3,266.0L486.4,270.8L490.5,275.7L494.6,280.9L498.4,286.3L502.0,291.8L505.3,297.4L508.1,303.1L510.5,308.7L512.3,314.3L513.5,319.8L514.0,325.1L513.9,330.1L513.1,334.9L511.6,339.3L509.4,343.3L506.5,346.8L503.0,349.9L499.0,352.5L494.4,354.5L489.4,356.2L484.1,357.3L478.5,358.1L472.9,358.6L467.2,358.8L461.6,358.9L456.2,358.9L451.0,359.0L446.1,359.2L441.6,359.7L437.5,360.5L433.8,361.7L430.5,363.3L427.6,365.5L425.1,368.2L422.9,371.6L420.9,375.5L419.2,380.0L417.6,385.0L416.1,390.4L414.5,396.1L412.8,402.0L410.9,408.1L408.8,414.0L406.5,419.8L403.7,425.2L400.7,430.2L397.3,434.5L393.5,438.1L389.3,440.6L384.6,441.2L379.5,440.5L374.5,439.2L369.4,437.4L364.5,435.3L359.5,432.9L354.7,430.2L350.0,427.3L345.5,424.3L341.0,421.0L336.7,417.7L332.6,414.2L328.6,410.7L324.7,407.2L321.0,403.6L317.4,400.1L314.0,396.5L310.7,393.1L307.5,389.7L304.5,386.4L301.5,383.2L298.6,380.2L295.8,377.3L293.1,374.5L290.3,372.0L287.7,369.6L285.0,367.3L282.4,365.3L279.7,363.5L277.0,361.8L274.2,360.3L271.4,359.0L268.5,358.0L265.4,357.2L262.2,356.7L258.9,356.3L255.3,356.2L251.6,356.3L247.7,356.6L243.6,356.9L239.3,357.4L234.8,357.9L230.1,358.5L225.3,359.0L220.3,359.5L215.2,360.0L210.0,360.3L204.7,360.5L199.4,360.5L194.0,360.3L188.6,359.9L183.3,359.3L178.1,358.4L173.0,357.2L168.0,355.7L163.2,354.0L158.6,351.9L154.3,349.5L150.2,346.8L146.5,343.9L143.0,340.6L140.0,337.1L137.3,333.3L135.1,329.2L133.5,324.8L132.8,320.0L133.0,314.9L133.9,309.6L135.5,304.0L137.9,298.4L140.8,292.7L144.4,287.0L148.4,281.4L152.8,275.9L157.5,270.6L162.3,265.6L167.2,260.7L172.0,256.2L176.7,251.9L181.0,247.8L185.0,244.1L188.5,240.6L191.4,237.3L193.7,234.2L195.3,231.3L196.2,228.4L196.3,225.6L195.7,222.9L194.4,220.1L192.5,217.2L189.9,214.1L186.7,210.9L183.0,207.5L178.9,203.9L174.4,200.1L169.7,195.9L164.9,191.6L160.1,187.0L155.3,182.1L150.7,177.1L146.4,171.9L142.5,166.6L139.2,161.2L136.3,155.8L134.2,150.4L132.7,145.2L132.0,140.1L132.0,135.2L132.8,130.6Z"/>
<path d="M138.3,119.0L140.6,115.1L143.3,111.4L146.2,107.9L149.5,104.6L153.0,101.6L156.7,98.8L160.7,96.2L164.9,93.9L169.3,91.8L173.8,90.0L178.5,88.5L183.3,87.2L188.3,86.2L193.3,85.4L198.3,84.9L203.4,84.5L208.4,84.4L213.5,84.5L218.5,84.7L223.5,85.1L228.4,85.7L233.2,86.3L237.9,87.1L242.5,87.9L246.9,88.8L251.3,89.7L255.4,90.5L259.5,91.4L263.4,92.3L267.1,93.0L270.7,93.7L274.2,94.3L277.5,94.8L280.8,95.1L283.8,95.2L286.8,95.2L289.7,95.0L292.5,94.6L295.2,94.0L297.9,93.2L300.5,92.0L303.1,90.5L305.6,88.7L308.2,86.6L310.8,84.2L313.5,81.5L316.2,78.5L319.0,75.3L322.0,71.8L325.1,68.1L328.3,64.3L331.7,60.2L335.3,56.1L339.0,51.8L343.0,47.5L347.1,43.2L351.5,38.8L356.0,34.6L360.8,30.4L365.7,26.4L370.8,22.5L376.0,18.9L381.4,15.6L386.8,12.7L392.3,10.3L397.8,8.5L402.8,8.5L407.0,10.8L410.8,14.1L414.2,18.0L417.2,22.7L419.9,27.9L422.1,33.6L423.9,39.7L425.3,46.2L426.4,52.8L427.0,59.7L427.4,66.6L427.5,73.5L427.3,80.3L427.0,87.0L426.5,93.4L426.0,99.6L425.4,105.5L424.9,111.0L424.5,116.0L424.3,120.7L424.2,124.9L424.5,128.7L425.1,132.0L426.1,134.8L427.5,137.3L429.6,139.1L433.3,139.7L438.6,139.1L445.4,137.7L453.7,135.6L463.0,133.2L473.2,130.7L483.9,128.4L494.6,126.6L505.0,125.4L514.6,125.2L523.1,125.8L530.1,127.5L535.4,130.3L538.6,134.1L540.3,138.6L541.1,143.4L541.0,148.4L540.2,153.6L538.6,159.0L536.3,164.4L533.3,169.9L529.6,175.3L525.4,180.6L520.8,185.8L515.7,190.8L510.4,195.6L504.9,200.2L499.3,204.6L493.8,208.7L488.3,212.5L483.1,216.1L478.3,219.4L473.8,222.6L469.8,225.6L466.4,228.4L463.6,231.1L461.4,233.8L459.9,236.4L459.1,239.1L459.0,241.9L459.5,244.7L460.6,247.8L462.2,251.0L464.4,254.4L467.0,258.1L469.9,262.0L473.2,266.2L476.8,270.6L480.5,275.3L484.2,280.3L488.0,285.5L491.6,290.9L495.0,296.5L498.2,302.1L501.0,307.9L503.4,313.7L505.3,319.4L506.7,325.1L507.5,330.6L507.7,335.8L507.2,340.9L506.1,345.5L504.4,349.8L502.0,353.7L498.9,357.0L495.0,359.7L490.5,361.8L485.4,363.2L479.8,364.1L474.0,364.5L468.1,364.5L462.2,364.3L456.5,364.1L451.1,363.9L446.1,364.0L441.5,364.4L437.5,365.4L433.9,366.9L431.0,369.2L428.5,372.2L426.5,376.1L424.9,380.8L423.6,386.1L422.3,392.1L421.1,398.4L419.7,404.9L418.1,411.4L416.1,417.7L413.7,423.5L410.9,428.6L407.5,432.9L403.6,436.0L399.0,437.1L393.9,436.5L388.7,435.4L383.5,433.9L378.4,432.0L373.3,429.9L368.4,427.5L363.5,425.0L358.8,422.3L354.1,419.4L349.6,416.4L345.3,413.3L341.1,410.1L337.0,406.9L333.1,403.7L329.3,400.4L325.6,397.1L322.1,393.9L318.7,390.7L315.4,387.5L312.3,384.4L309.2,381.4L306.2,378.5L303.4,375.7L300.6,373.0L297.8,370.5L295.2,368.1L292.5,365.8L289.9,363.7L287.3,361.7L284.7,359.9L282.1,358.2L279.5,356.7L276.8,355.3L274.1,354.1L271.3,353.1L268.3,352.4L265.3,351.8L262.0,351.5L258.7,351.4L255.1,351.4L251.4,351.6L247.5,351.9L243.4,352.3L239.1,352.7L234.7,353.2L230.1,353.7L225.4,354.2L220.5,354.6L215.5,355.0L210.3,355.3L205.2,355.4L199.9,355.3L194.6,355.1L189.3,354.7L184.0,354.1L178.8,353.2L173.7,352.0L168.7,350.6L163.8,349.0L159.1,347.0L154.6,344.8L150.3,342.3L146.3,339.5L142.6,336.4L139.2,333.1L136.2,329.6L133.4,325.8L131.1,321.8L129.2,317.6L128.2,313.0L128.0,308.1L128.7,302.9L130.1,297.5L132.3,292.0L135.3,286.5L138.8,280.9L142.9,275.5L147.5,270.1L152.4,264.9L157.5,259.9L162.6,255.2L167.8,250.7L172.9,246.5L177.6,242.5L182.0,238.8L186.0,235.4L189.4,232.2L192.1,229.1L194.2,226.2L195.6,223.4L196.1,220.6L195.9,217.8L195.0,215.0L193.4,212.0L191.1,208.9L188.2,205.6L184.7,202.2L180.8,198.4L176.5,194.4L172.0,190.1L167.3,185.6L162.6,180.8L157.9,175.8L153.4,170.6L149.2,165.2L145.4,159.7L142.1,154.2L139.4,148.7L137.3,143.2L136.0,137.8L135.3,132.7L135.5,127.8L136.5,123.2Z"/>
<path d="M142.4,111.8L144.9,108.0L147.6,104.4L150.7,101.0L154.0,97.8L157.6,94.9L161.4,92.2L165.4,89.7L169.6,87.5L174.0,85.5L178.6,83.8L183.2,82.4L188.0,81.2L192.9,80.3L197.9,79.6L202.9,79.1L207.9,78.9L212.9,78.8L217.9,79.0L222.9,79.3L227.8,79.8L232.7,80.4L237.4,81.2L242.1,82.1L246.7,83.0L251.1,84.0L255.4,85.0L259.6,86.1L263.7,87.1L267.6,88.1L271.4,89.1L275.0,89.9L278.6,90.7L281.9,91.4L285.2,92.0L288.4,92.4L291.4,92.6L294.4,92.7L297.3,92.6L300.1,92.4L302.8,91.9L305.6,91.2L308.2,90.2L310.9,88.9L313.6,87.4L316.3,85.5L319.0,83.4L321.9,81.0L324.8,78.4L327.8,75.6L330.9,72.5L334.2,69.2L337.6,65.8L341.2,62.2L344.9,58.5L348.9,54.7L353.0,50.9L357.3,47.0L361.8,43.0L366.5,39.2L371.4,35.3L376.5,31.6L381.8,28.0L387.2,24.7L392.7,21.5L398.4,18.6L404.1,16.1L409.8,14.1L415.3,13.2L419.5,15.5L423.3,18.6L426.6,22.5L429.5,27.1L432.0,32.2L434.0,37.9L435.5,44.0L436.6,50.5L437.3,57.2L437.6,64.1L437.5,71.2L437.1,78.2L436.5,85.2L435.7,92.0L434.7,98.6L433.6,104.9L432.6,110.9L431.6,116.6L430.7,121.8L430.1,126.5L429.7,130.9L429.7,134.7L430.0,138.1L430.8,141.0L432.1,143.5L434.2,145.3L438.3,145.8L444.2,145.2L451.8,143.7L461.0,141.7L471.3,139.4L482.3,137.2L493.7,135.4L504.8,134.1L515.3,133.7L524.6,134.2L532.3,135.8L538.1,138.5L541.8,142.2L543.4,146.6L544.2,151.4L544.1,156.4L543.3,161.6L541.7,166.8L539.3,172.1L536.3,177.4L532.7,182.7L528.5,187.8L523.8,192.9L518.7,197.7L513.4,202.3L507.8,206.8L502.2,210.9L496.5,214.8L490.9,218.5L485.5,222.0L480.4,225.2L475.7,228.2L471.4,231.0L467.6,233.7L464.3,236.3L461.7,238.9L459.7,241.5L458.4,244.0L457.8,246.7L457.8,249.5L458.3,252.5L459.4,255.6L461.0,259.0L463.0,262.6L465.5,266.4L468.3,270.6L471.4,275.0L474.6,279.6L478.0,284.6L481.4,289.7L484.8,295.1L488.0,300.7L491.0,306.4L493.7,312.3L496.1,318.1L498.1,324.0L499.5,329.8L500.5,335.5L500.9,341.0L500.7,346.2L500.0,351.2L498.6,355.8L496.6,359.9L494.0,363.7L490.6,366.8L486.3,368.9L481.1,370.2L475.3,370.7L469.2,370.6L462.9,370.0L456.8,369.4L451.0,368.8L445.8,368.7L441.3,369.2L437.4,370.5L434.4,372.8L432.1,376.4L430.6,381.1L429.5,386.9L428.7,393.5L428.0,400.7L427.0,407.9L425.6,414.9L423.6,421.2L421.0,426.4L417.5,430.3L413.1,432.1L407.9,431.5L402.6,430.5L397.3,429.2L392.0,427.6L386.8,425.7L381.7,423.6L376.7,421.4L371.8,419.0L367.0,416.4L362.3,413.8L357.8,411.0L353.4,408.2L349.1,405.3L345.0,402.4L341.0,399.4L337.2,396.4L333.5,393.4L329.9,390.4L326.4,387.5L323.1,384.6L319.8,381.7L316.7,378.9L313.7,376.2L310.8,373.5L307.9,371.0L305.1,368.5L302.4,366.1L299.8,363.9L297.2,361.8L294.6,359.8L292.1,357.9L289.5,356.1L287.0,354.5L284.5,353.0L281.9,351.6L279.3,350.4L276.7,349.2L274.0,348.3L271.2,347.5L268.2,347.0L265.1,346.7L261.9,346.5L258.5,346.5L255.0,346.6L251.3,346.9L247.4,347.2L243.4,347.6L239.2,348.1L234.8,348.5L230.2,349.0L225.6,349.4L220.8,349.8L215.8,350.1L210.8,350.3L205.7,350.3L200.5,350.2L195.3,350.0L190.1,349.5L184.9,348.9L179.7,348.0L174.6,346.9L169.6,345.5L164.6,343.9L159.9,342.0L155.3,339.9L150.9,337.5L146.7,334.9L142.8,332.0L139.1,328.9L135.8,325.5L132.7,321.9L130.0,318.1L127.6,314.2L125.6,310.0L124.2,305.6L123.6,300.8L124.0,295.8L125.2,290.6L127.2,285.3L130.0,279.9L133.5,274.5L137.7,269.2L142.3,263.9L147.3,258.9L152.7,254.0L158.1,249.4L163.6,245.0L169.1,240.9L174.3,237.0L179.1,233.4L183.5,230.1L187.4,226.9L190.6,223.9L193.2,221.1L195.0,218.3L196.0,215.5L196.2,212.8L195.7,209.9L194.4,206.9L192.4,203.8L189.8,200.5L186.6,196.9L182.9,193.0L178.8,188.9L174.5,184.5L169.9,179.8L165.3,174.8L160.7,169.6L156.4,164.3L152.3,158.7L148.6,153.0L145.4,147.3L142.7,141.7L140.8,136.1L139.5,130.6L139.0,125.4L139.3,120.5L140.5,116.0Z"/>
<path d="M146.8,104.8L149.4,101.1L152.3,97.6L155.4,94.3L158.8,91.2L162.5,88.3L166.3,85.7L170.4,83.4L174.6,81.3L179.0,79.4L183.6,77.8L188.2,76.5L193.0,75.4L197.9,74.5L202.8,73.9L207.7,73.6L212.7,73.4L217.7,73.4L222.6,73.7L227.6,74.1L232.4,74.7L237.3,75.4L242.0,76.3L246.6,77.2L251.2,78.3L255.6,79.4L259.9,80.6L264.1,81.7L268.1,82.9L272.1,84.1L275.9,85.2L279.5,86.3L283.1,87.3L286.5,88.2L289.8,88.9L293.0,89.6L296.1,90.1L299.1,90.5L302.1,90.7L304.9,90.7L307.8,90.6L310.6,90.2L313.3,89.7L316.1,88.9L318.8,87.8L321.6,86.5L324.4,84.9L327.3,83.1L330.2,81.1L333.3,78.8L336.4,76.4L339.7,73.7L343.1,70.9L346.7,67.9L350.4,64.8L354.3,61.5L358.4,58.2L362.7,54.8L367.1,51.3L371.8,47.9L376.6,44.4L381.6,41.0L386.8,37.6L392.2,34.3L397.8,31.2L403.5,28.2L409.4,25.5L415.3,22.9L421.3,20.8L427.3,19.1L431.7,21.0L435.4,24.1L438.7,27.9L441.5,32.4L443.8,37.4L445.6,43.1L446.9,49.2L447.7,55.6L448.0,62.4L447.9,69.4L447.4,76.4L446.6,83.6L445.5,90.6L444.1,97.6L442.6,104.3L441.0,110.7L439.5,116.8L438.0,122.6L436.7,127.9L435.6,132.7L434.8,137.1L434.5,141.0L434.6,144.4L435.1,147.4L436.3,149.9L438.6,151.7L443.1,152.1L449.7,151.5L458.3,150.0L468.4,148.1L479.7,146.1L491.6,144.3L503.6,142.9L515.0,142.4L525.3,142.8L533.9,144.3L540.4,146.8L544.5,150.4L546.2,154.8L546.9,159.6L546.8,164.6L546.0,169.6L544.3,174.8L542.0,180.0L539.0,185.2L535.4,190.3L531.2,195.3L526.5,200.1L521.4,204.8L516.1,209.2L510.5,213.5L504.7,217.5L499.0,221.2L493.3,224.7L487.7,228.0L482.4,231.1L477.4,233.9L472.8,236.6L468.7,239.2L465.1,241.7L462.0,244.1L459.6,246.5L457.8,249.0L456.6,251.6L456.1,254.3L456.1,257.1L456.7,260.2L457.8,263.4L459.3,266.9L461.2,270.7L463.5,274.7L466.1,279.1L468.9,283.7L471.9,288.5L474.9,293.7L478.0,299.0L480.9,304.6L483.8,310.3L486.3,316.2L488.6,322.1L490.6,328.1L492.1,334.0L493.1,339.8L493.7,345.5L493.7,351.0L493.2,356.2L492.1,361.0L490.4,365.5L488.2,369.6L485.4,373.2L481.7,375.9L476.6,377.2L470.5,377.2L463.9,376.3L457.1,374.9L450.8,373.7L445.4,373.3L441.0,374.1L437.8,376.5L436.1,380.9L435.4,387.2L435.3,394.9L435.3,403.2L434.9,411.3L433.5,418.3L430.9,423.5L426.9,426.1L421.5,425.6L416.0,424.6L410.5,423.4L405.1,421.9L399.8,420.3L394.5,418.5L389.4,416.5L384.4,414.4L379.4,412.2L374.6,409.8L370.0,407.4L365.4,404.9L361.0,402.4L356.7,399.7L352.6,397.1L348.6,394.4L344.7,391.7L340.9,389.0L337.3,386.3L333.8,383.6L330.4,380.9L327.1,378.3L324.0,375.7L320.9,373.2L317.9,370.7L315.0,368.3L312.2,366.0L309.5,363.7L306.8,361.5L304.2,359.5L301.6,357.5L299.1,355.6L296.6,353.8L294.1,352.2L291.7,350.6L289.2,349.1L286.8,347.8L284.3,346.5L281.8,345.4L279.3,344.3L276.6,343.4L273.9,342.7L271.1,342.2L268.2,341.8L265.1,341.7L261.9,341.6L258.5,341.7L255.0,341.9L251.3,342.2L247.5,342.6L243.5,343.0L239.3,343.4L235.0,343.9L230.5,344.3L225.9,344.7L221.2,345.0L216.3,345.2L211.4,345.4L206.4,345.4L201.3,345.2L196.2,344.9L191.0,344.4L185.9,343.8L180.7,342.9L175.6,341.8L170.6,340.4L165.7,338.9L160.9,337.1L156.3,335.0L151.8,332.7L147.5,330.2L143.4,327.4L139.6,324.4L136.0,321.2L132.7,317.8L129.6,314.2L126.9,310.3L124.6,306.3L122.5,302.2L120.8,297.9L119.9,293.3L119.8,288.5L120.7,283.4L122.5,278.3L125.2,273.0L128.6,267.7L132.7,262.5L137.3,257.4L142.5,252.5L148.0,247.8L153.7,243.3L159.5,239.0L165.3,235.0L170.9,231.3L176.2,227.8L181.1,224.5L185.4,221.5L189.2,218.6L192.2,215.8L194.5,213.1L196.0,210.4L196.6,207.7L196.5,204.9L195.6,201.9L193.9,198.7L191.6,195.3L188.7,191.7L185.2,187.8L181.4,183.5L177.2,179.0L172.8,174.1L168.3,169.0L163.9,163.6L159.6,158.1L155.6,152.3L152.0,146.5L148.9,140.6L146.3,134.8L144.5,129.1L143.3,123.6L143.0,118.3L143.4,113.4L144.7,108.9Z"/>
</g>
<g id="ring">
<path d="M138.98,158.57A92.75,92.75 0 0 1 268.96,155.17" fill="none" stroke="#c9cacf" stroke-width="47.10"/>
<path d="M145.46,293.53A92.75,92.75 0 0 0 275.61,283.95" fill="none" stroke="#c9cacf" stroke-width="47.10"/>
<path d="M390.34,153.53A92.75,92.75 0 0 1 518.97,159.04" fill="none" stroke="#c9cacf" stroke-width="47.10"/>
<path d="M383.97,286.26A92.75,92.75 0 0 0 514.46,291.38" fill="none" stroke="#c9cacf" stroke-width="47.10"/>
<path d="M145.46,293.53A92.75,92.75 0 0 1 138.98,158.57" fill="none" stroke="#636469" stroke-width="47.10"/>
<path d="M518.97,159.04A92.75,92.75 0 0 1 514.46,291.38" fill="none" stroke="#636469" stroke-width="47.10"/>
<path d="M268.96,155.17A92.75,92.75 0 0 1 276.14,162.66" fill="none" stroke="#636469" stroke-width="47.10"/>
<path d="M293.03,146.20L323.77,181.46L292.53,217.29L257.53,177.15Z" fill="#636469"/>
<path d="M399.97,268.85L364.97,228.71L333.73,264.54L364.47,299.80Z" fill="#636469"/>
<path d="M383.97,286.26A92.75,92.75 0 0 1 381.36,283.34" fill="none" stroke="#636469" stroke-width="47.10"/>
<path d="M275.61,283.95L381.89,162.05A92.75,92.75 0 0 1 390.34,153.53" fill="none" stroke="#636469" stroke-width="47.10"/>
<path d="M-6.20,-1.5 L-6.20,0 C-5.20,0 -4.70,0.6 -4.60,1.6 L-4.20,5.5 C-4.60,8.2 -10.3,10.3 -10.3,16.6 C-10.3,22.4 -5.7,26.4 0,26.4 C5.7,26.4 10.3,22.4 10.3,16.6 C10.3,10.3 6.60,8.2 6.20,5.5 L6.60,1.6 C6.70,0.6 7.20,0 8.20,0 L8.20,-1.5 Z" fill="#c9cacf" transform="translate(140.35,159.89) rotate(44.00) scale(1,0.975)"/>
<path d="M-7.20,-1.5 L-7.20,0 C-6.20,0 -5.70,0.6 -5.60,1.6 L-5.20,5.5 C-5.60,8.2 -10.3,10.3 -10.3,16.6 C-10.3,22.4 -5.7,26.4 0,26.4 C5.7,26.4 10.3,22.4 10.3,16.6 C10.3,10.3 5.60,8.2 5.20,5.5 L5.60,1.6 C5.70,0.6 6.20,0 7.20,0 L7.20,-1.5 Z" fill="#636469" transform="translate(268.27,155.90) rotate(133.00) scale(1,1.000)"/>
<path d="M-7.20,-1.5 L-7.20,0 C-6.20,0 -5.70,0.6 -5.60,1.6 L-5.20,5.5 C-5.60,8.2 -10.3,10.3 -10.3,16.6 C-10.3,22.4 -5.7,26.4 0,26.4 C5.7,26.4 10.3,22.4 10.3,16.6 C10.3,10.3 5.60,8.2 5.20,5.5 L5.60,1.6 C5.70,0.6 6.20,0 7.20,0 L7.20,-1.5 Z" fill="#636469" transform="translate(147.15,291.55) rotate(310.50) scale(1,1.038)"/>
<path d="M-5.20,-1.5 L-5.20,0 C-4.20,0 -3.70,0.6 -3.60,1.6 L-3.20,5.5 C-3.60,8.2 -10.3,10.3 -10.3,16.6 C-10.3,22.4 -5.7,26.4 0,26.4 C5.7,26.4 10.3,22.4 10.3,16.6 C10.3,10.3 7.60,8.2 7.20,5.5 L7.60,1.6 C7.70,0.6 8.20,0 9.20,0 L9.20,-1.5 Z" fill="#c9cacf" transform="translate(274.03,282.57) rotate(221.08) scale(1,0.988)"/>
<path d="M-7.20,-1.5 L-7.20,0 C-6.20,0 -5.70,0.6 -5.60,1.6 L-5.20,5.5 C-5.60,8.2 -10.3,10.3 -10.3,16.6 C-10.3,22.4 -5.7,26.4 0,26.4 C5.7,26.4 10.3,22.4 10.3,16.6 C10.3,10.3 5.60,8.2 5.20,5.5 L5.60,1.6 C5.70,0.6 6.20,0 7.20,0 L7.20,-1.5 Z" fill="#636469" transform="translate(390.54,153.76) rotate(-131.50) scale(1,1.081)"/>
<path d="M-7.20,-1.5 L-7.20,0 C-6.20,0 -5.70,0.6 -5.60,1.6 L-5.20,5.5 C-5.60,8.2 -10.3,10.3 -10.3,16.6 C-10.3,22.4 -5.7,26.4 0,26.4 C5.7,26.4 10.3,22.4 10.3,16.6 C10.3,10.3 5.60,8.2 5.20,5.5 L5.60,1.6 C5.70,0.6 6.20,0 7.20,0 L7.20,-1.5 Z" fill="#c9cacf" transform="translate(519.55,158.49) rotate(-43.60) scale(1,1.100)"/>
<path d="M-7.20,-1.5 L-7.20,0 C-6.20,0 -5.70,0.6 -5.60,1.6 L-5.20,5.5 C-5.60,8.2 -10.3,10.3 -10.3,16.6 C-10.3,22.4 -5.7,26.4 0,26.4 C5.7,26.4 10.3,22.4 10.3,16.6 C10.3,10.3 5.60,8.2 5.20,5.5 L5.60,1.6 C5.70,0.6 6.20,0 7.20,0 L7.20,-1.5 Z" fill="#636469" transform="translate(515.00,291.97) rotate(47.50) scale(1,1.000)"/>
<path d="M-7.20,-1.5 L-7.20,0 C-6.20,0 -5.70,0.6 -5.60,1.6 L-5.20,5.5 C-5.60,8.2 -10.3,10.3 -10.3,16.6 C-10.3,22.4 -5.7,26.4 0,26.4 C5.7,26.4 10.3,22.4 10.3,16.6 C10.3,10.3 5.60,8.2 5.20,5.5 L5.60,1.6 C5.70,0.6 6.20,0 7.20,0 L7.20,-1.5 Z" fill="#c9cacf" transform="translate(383.82,286.39) rotate(137.00) scale(1,1.062)"/>
</g>
<g id="icons">
<g>
<rect x="189.1" y="64.3" width="36.4" height="26.2" rx="3.6" fill="#c9cacf"/>
<rect x="192.1" y="67.5" width="30.4" height="20" fill="#6366e3"/>
<rect x="205.8" y="90" width="3" height="5.8" fill="#c9cacf"/>
<rect x="200.2" y="95.3" width="14.2" height="3.9" rx="1.4" fill="#c9cacf"/>
<path d="M204.3,72.4L198.7,77.4L204.3,82.4M211,72.4L216.6,77.4L211,82.4M210.2,71.3L205.9,83.6" fill="none" stroke="#dfe0f6" stroke-width="1.6"/>
</g>
<g>
<rect x="433.4" y="347.3" width="36.2" height="24.7" rx="3.4" fill="#c9cacf"/>
<rect x="436.2" y="350" width="30.4" height="19.6" fill="#6366e3"/>
<rect x="449.9" y="371.6" width="3.3" height="7" fill="#c9cacf"/>
<rect x="444.3" y="378.2" width="14.6" height="4.2" rx="1.4" fill="#c9cacf"/>
<path d="M437.5,359.7H444.8L446.8,356.5L449.3,365.5L452.8,352.8L456.3,365L458.3,359.7H465.3" fill="none" stroke="#d9d9f7" stroke-width="1.5" stroke-linejoin="round"/>
</g>
<g>
<rect x="48.4" y="201.8" width="34.7" height="39.9" rx="3" fill="#c9cacf"/>
<g transform="translate(66.3,222.2) rotate(44)">
 <rect x="-12.5" y="-2" width="25" height="4" fill="#6366e3"/>
 <circle cx="-12.3" cy="0" r="5.6" fill="#6366e3"/>
 <circle cx="12.3" cy="0" r="5.6" fill="#6366e3"/>
 <path d="M-19,-2.3 H-13.6 A2.3,2.3 0 0 1 -13.6,2.3 H-19Z" fill="#c9cacf"/>
 <path d="M19,-2.3 H13.6 A2.3,2.3 0 0 0 13.6,2.3 H19Z" fill="#c9cacf"/>
</g>
<g transform="translate(65.7,221.8) rotate(-47.7)">
  <rect x="-18.7" y="-2.8" width="20" height="5.6" rx="2.7" fill="#fff"/>
  <rect x="-16.2" y="-0.5" width="14" height="1" fill="#e3e4e8"/>
  <rect x="1" y="-0.8" width="14.5" height="1.6" fill="#fff"/>
  <path d="M15,-1.5 L19.6,-0.4 V0.4 L15,1.5Z" fill="#fff"/>
</g>
</g>
<g>
<rect x="433.9" y="59.9" width="35.4" height="39" rx="3" fill="#c9cacf"/>
<path d="M438.4,73 L465.5,62.6 L462.3,89.4 Z" fill="#fff"/>
<path d="M457.8,64.85 L464,69.2 L454.1,87.7 L442.9,79.1Z" fill="#6366e3"/>
<path d="M442.9,79.1 L454.1,87.7 L450.4,91.7 L439.8,83.5Z" fill="#fff"/>
<circle cx="454.1" cy="75.4" r="4" fill="#fff"/>
<circle cx="454.1" cy="75.4" r="2.8" fill="#c9cacf"/>
<path d="M441.1,85.6 L448.6,91.4 L438.4,96.6 Z" fill="#636469"/>
</g>
<g>
<rect x="575.3" y="207.4" width="41.6" height="28.2" rx="2.5" fill="#c9cacf"/>
<path d="M596.2,214.2 H615.5 L607.7,228.4 H579 V226.9 H588.8Z" fill="#fff"/>
<path d="M597.6,214.2 L590.2,227.4" stroke="#c9cacf" stroke-width="0.6" fill="none"/>
<ellipse cx="603" cy="220.7" rx="2.1" ry="3.1" transform="rotate(25 603 220.7)" fill="#c9cacf"/>
</g>
<g>
<path d="M190.4,357.8 V349.6 a3.6,3.6 0 0 1 3.6,-3.6 H219.9 a3.6,3.6 0 0 1 3.6,3.6 V357.8Z" fill="#6366e3"/>
<path d="M190.4,357.8 H223.5 V381.3 a2.5,2.5 0 0 1 -2.5,2.5 H192.9 a2.5,2.5 0 0 1 -2.5,-2.5Z" fill="#c9cacf"/>
<path d="M201.3,357.8V383.8M213,357.8V383.8M190.4,365.5H223.5M190.4,376.4H223.5" stroke="#eeeef2" stroke-width="0.8" fill="none"/>
<g opacity="0.999"><text x="0" y="0" font-size="9.2" fill="#fff" stroke="#fff" stroke-width="0.3" text-anchor="middle" transform="translate(207.3,355.3) scale(1.42,1)">101</text></g>
</g>
<g>
<path d="M308,131.6 V124 a3,3 0 0 1 3,-3 H347 a3,3 0 0 1 3,3 V131.6Z" fill="#6366e3"/>
<rect x="313.75" y="120.2" width="1.3" height="6.1" fill="#b3b4bc" opacity="0.5"/>
<circle cx="314.4" cy="126.3" r="1.7" fill="#fff"/>
<rect x="320.55" y="114.9" width="1.3" height="11.4" fill="#b3b4bc" opacity="0.9"/>
<circle cx="321.2" cy="126.3" r="1.7" fill="#fff"/>
<rect x="327.45" y="114.9" width="1.3" height="11.4" fill="#b3b4bc" opacity="0.9"/>
<circle cx="328.1" cy="126.3" r="1.7" fill="#fff"/>
<rect x="334.55" y="114.9" width="1.3" height="11.4" fill="#b3b4bc" opacity="0.9"/>
<circle cx="335.2" cy="126.3" r="1.7" fill="#fff"/>
<rect x="341.45" y="120.2" width="1.3" height="6.1" fill="#b3b4bc" opacity="0.5"/>
<circle cx="342.1" cy="126.3" r="1.7" fill="#fff"/>
<rect x="319.2" y="133.4" width="9" height="2.6" fill="#b4b5be" opacity="0.22"/>
<rect x="329" y="133.4" width="10" height="2.6" fill="#b4b5be" opacity="0.3"/>
<rect x="340.3" y="133.4" width="9.6" height="2.6" fill="#b4b5be" opacity="0.2"/>
<rect x="319.2" y="137.4" width="9" height="4.0" fill="#b4b5be" opacity="0.8"/>
<rect x="329" y="137.4" width="10" height="4.0" fill="#b4b5be" opacity="0.85"/>
<rect x="340.3" y="137.4" width="9.6" height="4.0" fill="#b4b5be" opacity="0.75"/>
<rect x="308.8" y="138.2" width="7.5" height="3" fill="#b4b5be" opacity="0.12"/>
<rect x="319.2" y="142.6" width="9" height="4.4" fill="#b4b5be" opacity="0.65"/>
<rect x="329" y="142.6" width="10" height="4.4" fill="#b4b5be" opacity="0.75"/>
<rect x="340.3" y="142.6" width="9.2" height="4.4" fill="#b4b5be" opacity="0.55"/>
<rect x="308.8" y="143.6" width="7.5" height="3" fill="#b4b5be" opacity="0.15"/>
<rect x="319.2" y="148.3" width="9" height="3.8" fill="#b4b5be" opacity="0.65"/>
<rect x="329" y="148.3" width="9.5" height="3.8" fill="#b4b5be" opacity="0.6"/>
<rect x="340" y="148.3" width="3.4" height="3.8" fill="#b4b5be" opacity="0.3"/>
<rect x="308.4" y="148.3" width="4.6" height="3.8" fill="#b4b5be" opacity="0.5"/>
<rect x="313" y="148.8" width="3.5" height="3.2" fill="#b4b5be" opacity="0.2"/>
</g>
<g>
<rect x="305.5" y="295.1" width="46.6" height="31.7" rx="2.5" fill="#c9cacf"/>
<path d="M342.89,312.93L345.70,313.25L345.70,316.15L342.89,316.47L341.98,318.67L343.74,320.88L341.68,322.94L339.47,321.18L337.27,322.09L336.95,324.90L334.05,324.90L333.73,322.09L331.53,321.18L329.32,322.94L327.26,320.88L329.02,318.67L328.11,316.47L325.30,316.15L325.30,313.25L328.11,312.93L329.02,310.73L327.26,308.52L329.32,306.46L331.53,308.22L333.73,307.31L334.05,304.50L336.95,304.50L337.27,307.31L339.47,308.22L341.68,306.46L343.74,308.52L341.98,310.73Z" fill="#6366e3"/><circle cx="335.5" cy="314.7" r="3.9" fill="#c9cacf"/>
<path d="M323.31,312.43L325.35,312.59L325.35,314.21L323.31,314.37L322.91,315.61L324.47,316.95L323.51,318.26L321.76,317.19L320.71,317.96L321.18,319.95L319.64,320.45L318.85,318.56L317.55,318.56L316.76,320.45L315.22,319.95L315.69,317.96L314.64,317.19L312.89,318.26L311.93,316.95L313.49,315.61L313.09,314.37L311.05,314.21L311.05,312.59L313.09,312.43L313.49,311.19L311.93,309.85L312.89,308.54L314.64,309.61L315.69,308.84L315.22,306.85L316.76,306.35L317.55,308.24L318.85,308.24L319.64,306.35L321.18,306.85L320.71,308.84L321.76,309.61L323.51,308.54L324.47,309.85L322.91,311.19Z" fill="#fff"/><circle cx="318.2" cy="313.4" r="2.7" fill="#c9cacf"/>
<path d="M327.80,300.86L329.25,301.00L329.25,302.40L327.80,302.54L327.37,303.58L328.30,304.70L327.30,305.70L326.18,304.77L325.14,305.20L325.00,306.65L323.60,306.65L323.46,305.20L322.42,304.77L321.30,305.70L320.30,304.70L321.23,303.58L320.80,302.54L319.35,302.40L319.35,301.00L320.80,300.86L321.23,299.82L320.30,298.70L321.30,297.70L322.42,298.63L323.46,298.20L323.60,296.75L325.00,296.75L325.14,298.20L326.18,298.63L327.30,297.70L328.30,298.70L327.37,299.82Z" fill="#6366e3"/><circle cx="324.3" cy="301.7" r="1.9" fill="#c9cacf"/>
</g>
</g>
<g id="labels" opacity="0.999">
<text x="0" y="0" font-size="30.2" fill="#6366e3" stroke="#6366e3" stroke-width="0.5" stroke-linejoin="round" text-anchor="middle" transform="translate(205.65,232.05) scale(0.9884,1)">DEV</text>
<text x="0" y="0" font-size="30.2" fill="#6366e3" stroke="#6366e3" stroke-width="0.5" stroke-linejoin="round" text-anchor="middle" transform="translate(451.10,232.25) scale(1.0390,1)">OPS</text>
<text x="0" y="0" font-size="14.7" fill="#6366e3" stroke="#6366e3" stroke-width="0.3" stroke-linejoin="round" text-anchor="middle" transform="translate(206.80,136.20) scale(1.0265,1)">CODE</text>
<text x="0" y="0" font-size="14.7" fill="#6366e3" stroke="#6366e3" stroke-width="0.3" stroke-linejoin="round" text-anchor="middle" transform="translate(450.55,136.20) scale(1.0152,1)">DEPLOY</text>
<text x="0" y="0" font-size="14.7" fill="#6366e3" stroke="#6366e3" stroke-width="0.3" stroke-linejoin="round" text-anchor="middle" transform="translate(207.25,319.00) scale(1.0001,1)">TEST</text>
<text x="0" y="0" font-size="14.7" fill="#6366e3" stroke="#6366e3" stroke-width="0.3" stroke-linejoin="round" text-anchor="middle" transform="translate(451.20,319.00) scale(1.0650,1)">MONITOR</text>
<text x="0" y="0" font-size="14.7" fill="#c9cacf" stroke="#c9cacf" stroke-width="0.3" stroke-linejoin="round" text-anchor="middle" transform="translate(121.00,222.75) rotate(-90.00) scale(0.9936,1)">BUILD</text>
<text x="0" y="0" font-size="14.7" fill="#c9cacf" stroke="#c9cacf" stroke-width="0.3" stroke-linejoin="round" text-anchor="middle" transform="translate(534.70,222.25) rotate(90.00) scale(1.0231,1)">OPERATE</text>
<text x="0" y="0" font-size="14.7" fill="#c9cacf" stroke="#c9cacf" stroke-width="0.3" stroke-linejoin="round" text-anchor="middle" transform="translate(285.40,181.20) rotate(48.92)">PLAN</text>
<text x="0" y="0" font-size="14.7" fill="#c9cacf" stroke="#c9cacf" stroke-width="0.3" stroke-linejoin="round" text-anchor="middle" transform="translate(337.60,218.20) rotate(-48.92) scale(0.9700,1)">RELEASE</text>
</g>
</svg>
</body></html>
